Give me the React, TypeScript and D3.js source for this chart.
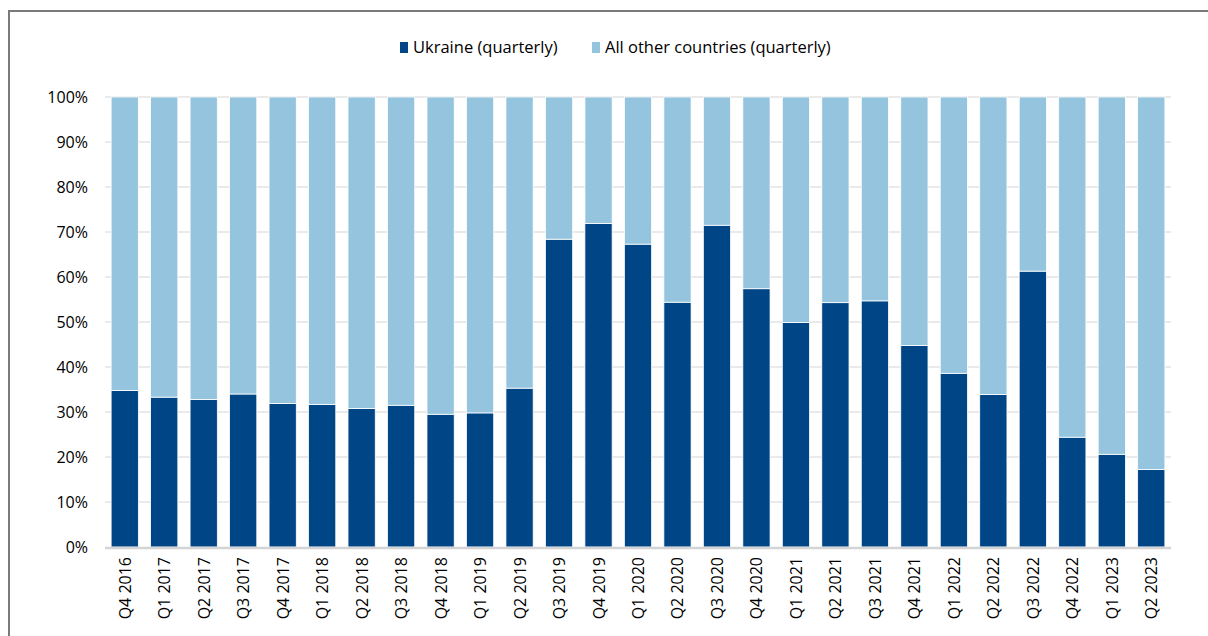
import React, { useRef, useEffect } from 'react';
import * as d3 from 'd3';

// quarters on the x axis
const quarters = [
  'Q4 2016', 'Q1 2017', 'Q2 2017', 'Q3 2017', 'Q4 2017', 'Q1 2018', 'Q2 2018',
  'Q3 2018', 'Q4 2018', 'Q1 2019', 'Q2 2019', 'Q3 2019', 'Q4 2019', 'Q1 2020',
  'Q2 2020', 'Q3 2020', 'Q4 2020', 'Q1 2021', 'Q2 2021', 'Q3 2021', 'Q4 2021',
  'Q1 2022', 'Q2 2022', 'Q3 2022', 'Q4 2022', 'Q1 2023', 'Q2 2023',
];

// Ukraine share (%), the rest goes to all other countries
const ukraineShare = [
  34.8, 33.3, 32.8, 34.0, 31.9, 31.7, 30.8, 31.5, 29.5, 29.8, 35.3, 68.4, 71.9, 67.3,
  54.4, 71.5, 57.4, 49.9, 54.3, 54.7, 44.8, 38.6, 33.9, 61.3, 24.4, 20.6, 17.2,
];
const otherShare = ukraineShare.map(v => 100 - v);

const seriesNames = ['Ukraine (quarterly)', 'All other countries (quarterly)'];
const seriesColors = ['#004687', '#95c5de'];
const yTicks = [0, 10, 20, 30, 40, 50, 60, 70, 80, 90, 100];

const W = 1208;
const H = 636;
const FONT = '"Open Sans", "Noto Sans", sans-serif';

const App = () => {
  const svgRef = useRef<SVGSVGElement>(null);

  useEffect(() => {
    const svg = d3.select(svgRef.current);
    svg.selectAll('*').remove();

    const margin = { top: 97, right: 37, bottom: 89, left: 105 };
    const width = W - margin.left - margin.right;
    const height = H - margin.top - margin.bottom;

    // frame (only top and left edges are visible in the crop)
    svg.append('path')
      .attr('d', `M9,${H} L9,11 L${W},11`)
      .attr('fill', 'none')
      .attr('stroke', '#7a7a7a')
      .attr('stroke-width', 2);

    const g = svg.append('g')
      .attr('transform', `translate(${margin.left},${margin.top})`);

    const x = d3.scaleBand().domain(quarters).range([0, width]).paddingInner(0.31).paddingOuter(0.155);
    const y = d3.scaleLinear().domain([0, 100]).range([height, 0]);

    // gridlines
    g.selectAll('line.grid')
      .data(yTicks.filter(t => t > 0))
      .enter()
      .append('line')
      .attr('x1', 0)
      .attr('x2', width)
      .attr('y1', d => y(d))
      .attr('y2', d => y(d))
      .attr('stroke', '#e3e3e3')
      .attr('stroke-width', 1.5);

    // y labels
    g.selectAll('text.ylab')
      .data(yTicks)
      .enter()
      .append('text')
      .attr('x', -17)
      .attr('y', d => y(d))
      .attr('dy', '0.35em')
      .attr('text-anchor', 'end')
      .attr('font-family', FONT)
      .attr('font-size', 16)
      .attr('fill', '#000')
      .text(d => `${d}%`);

    // stacked bars
    const rows = quarters.map((q, i) => ({ q, ukraine: ukraineShare[i], other: otherShare[i] }));
    const stacked = d3.stack<any>().keys(['ukraine', 'other'])(rows);

    g.selectAll('g.layer')
      .data(stacked)
      .enter()
      .append('g')
      .attr('fill', (_d, i) => seriesColors[i])
      .selectAll('rect')
      .data(d => d)
      .enter()
      .append('rect')
      .attr('x', d => x(d.data.q)!)
      .attr('width', x.bandwidth())
      .attr('y', d => y(d[1]))
      .attr('height', d => y(d[0]) - y(d[1]))
      .attr('stroke', '#ffffff')
      .attr('stroke-width', 0.8);

    // baseline
    g.append('line')
      .attr('x1', 0)
      .attr('x2', width)
      .attr('y1', height + 1)
      .attr('y2', height + 1)
      .attr('stroke', '#d4d4d4')
      .attr('stroke-width', 2.5);

    // x labels, rotated
    g.selectAll('text.xlab')
      .data(quarters)
      .enter()
      .append('text')
      .attr('transform', d => `translate(${x(d)! + x.bandwidth() / 2 + 6},${height + 10}) rotate(-90)`)
      .attr('text-anchor', 'end')
      .attr('font-family', FONT)
      .attr('font-size', 16)
      .attr('fill', '#000')
      .text(d => d);

    // legend
    const legendItems = [
      { name: seriesNames[0], color: seriesColors[0], x: 400 },
      { name: seriesNames[1], color: seriesColors[1], x: 592 },
    ];
    const legend = svg.append('g');
    legendItems.forEach(item => {
      legend.append('rect')
        .attr('x', item.x)
        .attr('y', 42)
        .attr('width', 8)
        .attr('height', 11)
        .attr('fill', item.color);
      legend.append('text')
        .attr('x', item.x + 13)
        .attr('y', 53)
        .attr('font-family', FONT)
        .attr('font-size', 16.5)
        .attr('fill', '#000')
        .text(item.name);
    });
  }, []);

  return (
    <svg
      ref={svgRef}
      width={W}
      height={H}
      style={{ position: 'absolute', left: 0, top: 0, background: '#fff' }}
    />
  );
};

export default App;
